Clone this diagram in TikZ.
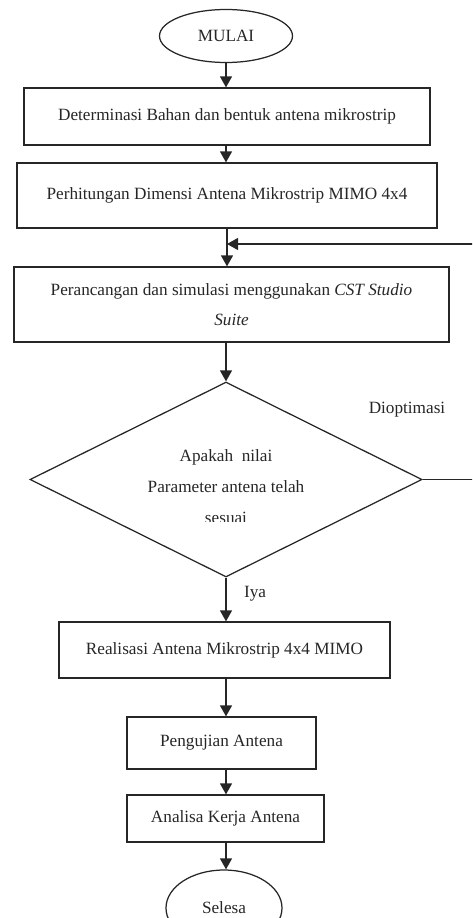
\documentclass[tikz,border=0pt]{standalone}
\usepackage{fontspec}
\setmainfont{Liberation Serif}
\usetikzlibrary{shapes.geometric,arrows.meta,calc}
\begin{document}
\begin{tikzpicture}[x=1pt,y=-1pt,
  every node/.style={font=\fontsize{17.2}{30}\selectfont, text=black!85},
  box/.style={draw=black!85, line width=1.25pt, rectangle, inner sep=0pt},
  oval/.style={draw=black!85, line width=1.25pt, ellipse, inner sep=0pt},
  arr/.style={draw=black!85, line width=1.25pt, -{Triangle[width=12pt,length=11pt]}},
  ln/.style={draw=black!85, line width=1.25pt}]
\useasboundingbox (0,0) rectangle (472,918);
\clip (0,0) rectangle (472,918);
\node[oval, minimum width=133pt, minimum height=53pt] (mulai) at (226,36) {MULAI};
\node[box, minimum width=406pt, minimum height=57pt] (b1) at (227,116.5) {Determinasi Bahan dan bentuk antena mikrostrip};
\node[box, minimum width=420pt, minimum height=65pt] (b2) at (227,195.5) {Perhitungan Dimensi Antena Mikrostrip MIMO 4x4};
\node[box, minimum width=435pt, minimum height=75pt, align=center] (b3) at (231.5,304.5) {Perancangan dan simulasi menggunakan \textit{CST Studio}\\\textit{Suite}};
\node[draw=black!85, line width=1.25pt, diamond, aspect=2, minimum width=392pt, minimum height=195pt, inner sep=0pt] (dia) at (226,479.5) {};
\node (q1) at (226,457) {Apakah\ \ nilai};
\node (q2) at (226,487) {Parameter antena telah};
\begin{scope}
\clip (150,505) rectangle (300,521);
\node (q3) at (226,518) {sesuai};
\end{scope}
\node[box, minimum width=331pt, minimum height=56pt] (b4) at (224.5,650) {Realisasi Antena Mikrostrip 4x4 MIMO};
\node[box, minimum width=189pt, minimum height=52pt] (b5) at (221.5,743) {Pengujian Antena};
\node[box, minimum width=197pt, minimum height=47pt] (b6) at (225.5,818.5) {Analisa Kerja Antena};
\node[oval, minimum width=116pt, minimum height=76pt] (sel) at (224,908) {Selesa};
\node (iya) at (255,594) {Iya};
\node (opt) at (407,410) {Dioptimasi};
\coordinate (j) at (227,244);
\coordinate (rt) at (480,479.5);
\coordinate (rb) at (480,244);
\draw[arr] (mulai.south) -- (b1.north -| mulai.south);
\draw[arr] (b1.south -| mulai.south) -- (b2.north -| mulai.south);
\draw[arr] (b2.south -| j) -- (b3.north -| j);
\draw[arr] (b3.south -| dia.north) -- (dia.north);
\draw[ln] (dia.east) -- (rt) -- (rb);
\draw[arr] (rb) -- (j);
\draw[arr] (dia.south) -- (b4.north -| dia.south);
\draw[arr] (b4.south -| dia.south) -- (b5.north -| dia.south);
\draw[arr] (b5.south -| dia.south) -- (b6.north -| dia.south);
\draw[arr] (b6.south -| dia.south) -- (sel.north -| dia.south);
\end{tikzpicture}
\end{document}
